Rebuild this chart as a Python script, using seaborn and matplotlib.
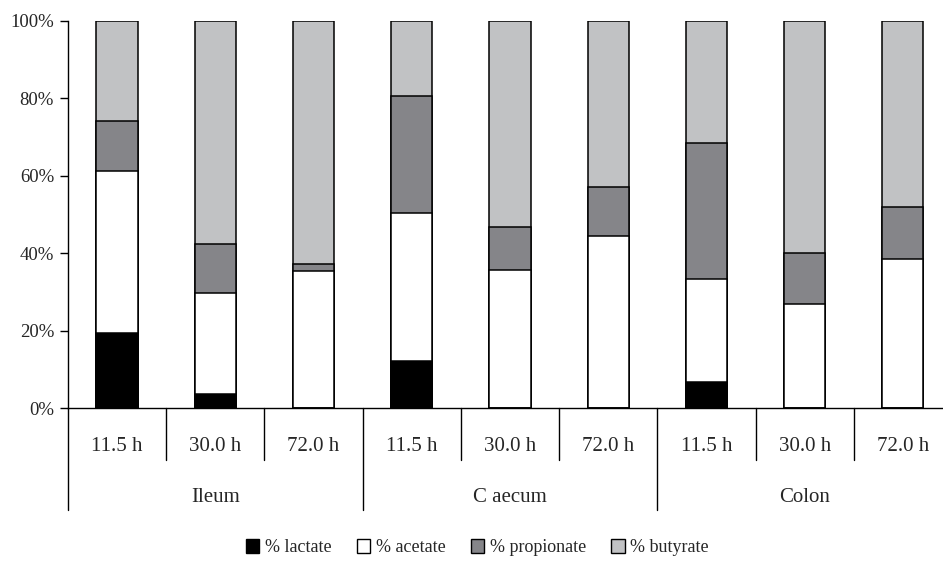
import numpy as np
import pandas as pd
import seaborn as sns
import matplotlib.pyplot as plt
from matplotlib.patches import Patch

# data (percent of total)
sections = ["Ileum", "C aecum", "Colon"]
times = ["11.5 h", "30.0 h", "72.0 h"]
lactate = [19.4, 3.5, 0.0, 12.2, 0.0, 0.0, 6.6, 0.0, 0.0]
acetate = [41.8, 26.2, 35.3, 38.1, 35.6, 44.4, 26.7, 27.0, 38.4]
propionate = [13.0, 12.7, 1.9, 30.2, 11.1, 12.6, 35.1, 13.0, 13.5]
butyrate = [25.8, 57.6, 62.8, 19.5, 53.3, 43.0, 31.6, 60.0, 48.1]

names = ["% lactate", "% acetate", "% propionate", "% butyrate"]
colors = ["#000000", "#ffffff", "#858589", "#c1c2c4"]

keys = [s + " " + t for s in sections for t in times]
df = pd.DataFrame({"key": keys, "lactate": lactate, "acetate": acetate,
                   "propionate": propionate, "butyrate": butyrate})
df["c1"] = df["lactate"]
df["c2"] = df["c1"] + df["acetate"]
df["c3"] = df["c2"] + df["propionate"]
df["c4"] = 100.0

sns.set_style("white")
plt.rcParams["font.family"] = ["Liberation Serif", "DejaVu Serif"]

fig = plt.figure(figsize=(9.43, 5.63), dpi=100)
ax = fig.add_axes([0.0721, 0.2753, 0.9374, 0.6874])

# stacked bars: draw cumulative totals from largest to smallest
for col, c in zip(["c4", "c3", "c2", "c1"], colors[::-1]):
    sns.barplot(data=df, x="key", y=col, order=keys, color=c, saturation=1,
                edgecolor="black", linewidth=1.1, width=0.42, errorbar=None, ax=ax)

ax.set_xlim(-0.5, 8.5)
ax.set_ylim(0, 100)
ax.set_yticks(np.arange(0, 101, 20))
ax.set_yticklabels([f"{v}%" for v in range(0, 101, 20)], fontsize=13.5)
ax.tick_params(axis="y", which="major", direction="out", length=5.5, width=1, color="black", pad=4.5, left=True)
ax.set_xticks([])
ax.set_xlabel("")
ax.set_ylabel("")
for s in ["top", "right"]:
    ax.spines[s].set_visible(False)
for s in ["left", "bottom"]:
    ax.spines[s].set_color("black")
    ax.spines[s].set_linewidth(1)

# two-level category axis
trans = ax.get_xaxis_transform()
for i, k in enumerate(keys):
    ax.text(i, -0.1, times[i % 3], transform=trans, ha="center", va="center", fontsize=15)
for j, s in enumerate(sections):
    ax.text(3 * j + 1, -0.232, s, transform=trans, ha="center", va="center", fontsize=15)
for b in np.arange(-0.5, 9.0, 1.0):
    low = -0.264 if (b + 0.5) % 3 == 0 else -0.134
    ax.plot([b, b], [0, low], transform=trans, color="black", lw=1, clip_on=False)

handles = [Patch(facecolor=c, edgecolor="black", linewidth=1) for c in colors]
fig.legend(handles, names, loc="center", bbox_to_anchor=(0.506, 0.027), ncol=4,
           frameon=False, fontsize=13, handlelength=0.75, handleheight=0.75,
           handletextpad=0.3, columnspacing=1.4)

fig.savefig("out.png", dpi=100)
